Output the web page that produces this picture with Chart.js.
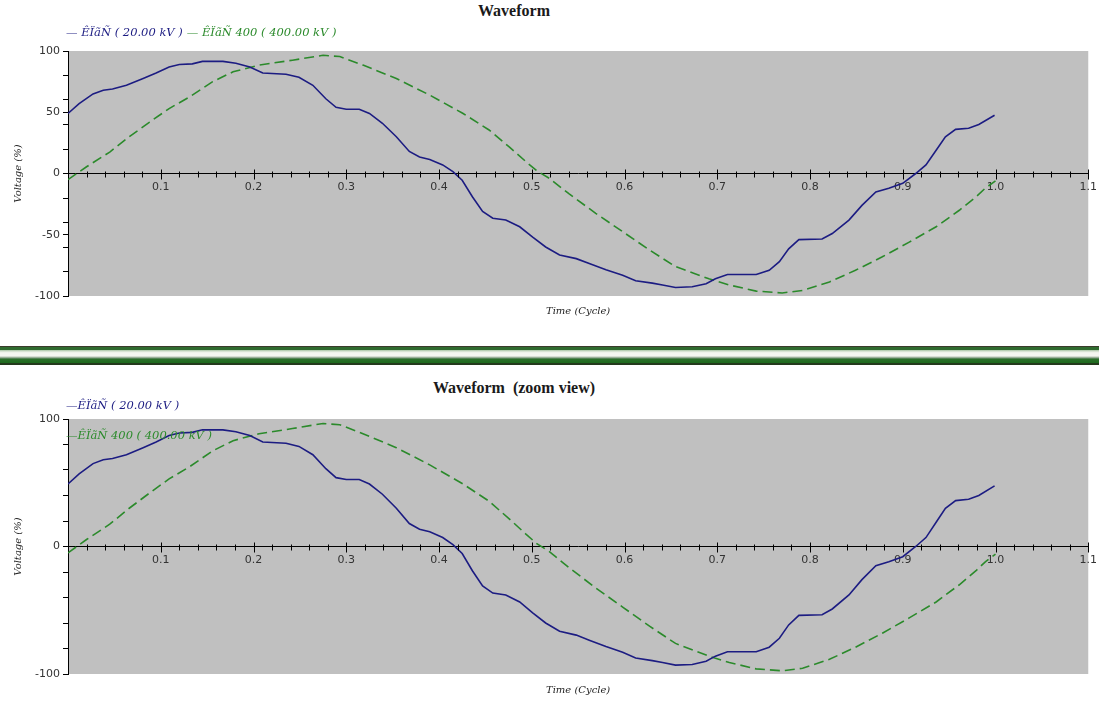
<!DOCTYPE html>
<html>
<head>
<meta charset="utf-8">
<title>Waveform</title>
<script src="https://cdn.jsdelivr.net/npm/chart.js@4.4.0/dist/chart.umd.min.js"></script>
<style>
	body{margin:0;background:#fff;width:1099px;height:702px;position:relative;overflow:hidden;}
	canvas{position:absolute;left:0;}
	.title{position:absolute;left:0;width:1028px;text-align:center;font:bold 16px 'Liberation Serif',serif;color:#1a1a1a;line-height:18px;}
	.legend{position:absolute;left:66px;font:italic 11.5px 'DejaVu Serif',serif;white-space:nowrap;z-index:2;}
	.legend span{margin-right:4px;}
	/* green double rule between the two charts */
	.sep{position:absolute;left:0;top:346px;width:1099px;height:19px;
		background:linear-gradient(to bottom,#3b3b2c 0px,#3b3b2c 1px,#2f6b2f 1px,#2f6b2f 4px,#a7c4a2 4px,#e9efe4 6px,#f5f6f0 7px,#f5f6f0 10px,#b9c6b5 11px,#7f9a7f 12px,#2c6f2a 13px,#1d6a1d 17px,#243a1c 17px,#243a1c 19px);}
</style>
</head>
<body>

<div class="title" style="top:2px;">Waveform</div>
<div class="legend" id="legendMain" style="top:25px;line-height:14px;"></div>
<canvas id="waveMain" width="1099" height="330" style="top:0;"></canvas>

<div class="sep"></div>

<div class="title" style="top:379px;">Waveform&nbsp;&nbsp;(zoom view)</div>
<div class="legend" id="legendZoom" style="top:390px;line-height:30px;"></div>
<canvas id="waveZoom" width="1099" height="332" style="top:370px;"></canvas>

<script>
//系列名称
var seriesNames = ['ÊÏãÑ ( 20.00 kV )', 'ÊÏãÑ 400 ( 400.00 kV )'];
var seriesColors = ['#1c1c82', '#2b8a2b'];

//20 kV 母线电压 (周期, %)
var cycle20 = [0.000, 0.012, 0.027, 0.038, 0.048, 0.063, 0.081, 0.095, 0.109, 0.120, 0.134, 0.145, 0.167, 0.181, 0.196,
	0.210, 0.235, 0.249, 0.264, 0.278, 0.289, 0.300, 0.314, 0.325, 0.339, 0.354, 0.368, 0.379, 0.390, 0.404,
	0.415, 0.425, 0.436, 0.447, 0.458, 0.472, 0.487, 0.501, 0.515, 0.530, 0.548, 0.562, 0.580, 0.598, 0.612,
	0.630, 0.641, 0.655, 0.673, 0.688, 0.698, 0.711, 0.742, 0.756, 0.767, 0.777, 0.788, 0.813, 0.824, 0.842,
	0.856, 0.871, 0.885, 0.900, 0.914, 0.925, 0.936, 0.946, 0.957, 0.971, 0.982, 0.999];
var volt20 = [49, 57, 65, 68, 69, 72, 77.5, 82, 87, 89, 89.5, 91.5, 91.5, 90, 87,
	82, 81, 78.5, 72, 61, 54, 52.5, 52.5, 49, 41, 30, 18, 13.5, 11.5, 7,
	1.5, -5.5, -19, -31, -36.5, -38, -43.5, -52, -60, -66.5, -69.5, -73.5, -78.5, -83, -87.5,
	-89.5, -91, -93, -92.5, -90, -86, -82.5, -82.5, -79, -72, -61.5, -54, -53.5, -49, -38,
	-26, -15, -12, -8, 0, 7, 19, 30, 36, 37, 40, 47.5];

//400 kV 母线电压 (周期, %)
var cycle400 = [0.000, 0.020, 0.045, 0.066, 0.088, 0.109, 0.131, 0.156, 0.178, 0.206, 0.242, 0.275, 0.293, 0.318,
	0.354, 0.390, 0.426, 0.454, 0.476, 0.494, 0.505, 0.519, 0.540, 0.569, 0.598, 0.627, 0.655, 0.691,
	0.713, 0.742, 0.770, 0.792, 0.821, 0.849, 0.878, 0.907, 0.936, 0.961, 0.979, 0.989, 1.000];
var volt400 = [-5, 5.5, 17.5, 30, 42, 53, 62.5, 75, 83, 88.5, 92.5, 96.5, 95.5, 88.5,
	77.5, 64, 49, 35.5, 21.5, 9.5, 2.5, -4, -16.5, -32.5, -47.5, -62.5, -76, -86,
	-91, -96, -97.5, -95.5, -88.5, -79, -68, -56, -43.5, -30, -19, -12, -6];

//坐标轴刻度
var xMax = 1.1;
var xMinorStep = 0.02;
var yMinorStep = 20;
var yLabelsMain = [-100, -50, 0, 50, 100];
var yLabelsZoom = [-100, 0, 100];

function toPoints(xs, ys){
	return xs.map(function(x, i){ return {x: x, y: ys[i]}; });
}

//绘图区灰色背景
var plotBackground = {
	id: 'plotBackground',
	beforeDraw: function(chart){
		var a = chart.chartArea, ctx = chart.ctx;
		ctx.save();
		ctx.fillStyle = '#c0c0c0';
		ctx.fillRect(a.left, a.top, a.right - a.left, a.bottom - a.top);
		ctx.restore();
	}
};

//横轴刻度线穿过零线
var crossTicks = {
	id: 'crossTicks',
	afterDraw: function(chart){
		var xs = chart.scales.x, ys = chart.scales.y, ctx = chart.ctx;
		var y0 = Math.round(ys.getPixelForValue(0)) + 0.5;
		ctx.save();
		ctx.strokeStyle = '#000';
		ctx.lineWidth = 1;
		ctx.beginPath();
		xs.ticks.forEach(function(t, i){
			if (i === 0) return;
			var px = Math.round(xs.getPixelForValue(t.value)) + 0.5;
			var len = (i % 5 === 0) ? 5 : 3;
			ctx.moveTo(px, y0 - len);
			ctx.lineTo(px, y0 + len);
		});
		ctx.stroke();
		ctx.restore();
	}
};

function buildLegend(chart, el, stacked){
	var html = '';
	chart.data.datasets.forEach(function(ds){
		html += '<span style="color:' + ds.borderColor + '">' + (stacked ? '—' : '— ') + ds.label + '</span>';
		if (stacked) html += '<br>';
	});
	el.innerHTML = html;
}

function makeChart(canvasId, yLabels, pad, titleGap){
	var tickFont = {family: "'DejaVu Sans', sans-serif", size: 11};
	var titleFont = {family: "'DejaVu Serif', serif", size: 10, style: 'italic', lineHeight: 1.2};
	return new Chart(document.getElementById(canvasId), {
		type: 'line',
		data: {
			datasets: [{
				label: seriesNames[0],
				data: toPoints(cycle20, volt20),
				borderColor: seriesColors[0],
				borderWidth: 1.6,
				pointRadius: 0,
				tension: 0
			}, {
				label: seriesNames[1],
				data: toPoints(cycle400, volt400),
				borderColor: seriesColors[1],
				borderWidth: 1.6,
				borderDash: [10, 5],
				pointRadius: 0,
				tension: 0
			}]
		},
		options: {
			responsive: false,
			animation: false,
			events: [],
			layout: {padding: pad},
			plugins: {legend: {display: false}, title: {display: false}, tooltip: {enabled: false}},
			scales: {
				x: {
					type: 'linear',
					position: {y: 0},
					min: 0,
					max: xMax,
					afterBuildTicks: function(scale){
						var ticks = [];
						for (var i = 0; i <= Math.round(xMax / xMinorStep); i++) {
							ticks.push({value: +(i * xMinorStep).toFixed(2)});
						}
						scale.ticks = ticks;
					},
					ticks: {
						autoSkip: false,
						maxRotation: 0,
						padding: 2,
						color: '#333',
						font: tickFont,
						callback: function(v, i){ return (i > 0 && i % 5 === 0) ? v.toFixed(1) : ''; }
					},
					grid: {display: false, drawTicks: true, tickLength: 5},
					border: {display: true, color: '#000', width: 1}
				},
				xTitle: {
					type: 'linear',
					position: 'bottom',
					min: 0,
					max: xMax,
					afterFit: function(scale){ scale.height = titleGap + 16; },
					ticks: {display: false},
					grid: {display: false, drawTicks: false},
					border: {display: false},
					title: {display: true, text: 'Time (Cycle)', color: '#222', font: titleFont, padding: {top: titleGap, bottom: 4}}
				},
				y: {
					type: 'linear',
					min: -100,
					max: 100,
					afterFit: function(scale){ scale.width = 68; },
					afterBuildTicks: function(scale){
						var vals = [];
						for (var v = -100; v <= 100; v += yMinorStep) vals.push(v);
						yLabels.forEach(function(v){ if (vals.indexOf(v) < 0) vals.push(v); });
						vals.sort(function(a, b){ return a - b; });
						scale.ticks = vals.map(function(v){ return {value: v}; });
					},
					ticks: {
						autoSkip: false,
						padding: 3,
						color: '#333',
						font: tickFont,
						callback: function(v){ return yLabels.indexOf(v) >= 0 ? String(v) : ''; }
					},
					grid: {display: true, drawOnChartArea: false, drawTicks: true, tickLength: 5, color: '#000'},
					border: {display: true, color: '#000', width: 1},
					title: {display: true, text: 'Voltage (%)', color: '#222', font: titleFont, padding: {top: 12, bottom: 0}}
				}
			}
		},
		plugins: [plotBackground, crossTicks]
	});
}

var mainChart = makeChart('waveMain', yLabelsMain, {top: 51, right: 10, bottom: 9, left: 0}, 9);
var zoomChart = makeChart('waveZoom', yLabelsZoom, {top: 49, right: 10, bottom: 2, left: 0}, 10);

buildLegend(mainChart, document.getElementById('legendMain'), false);
buildLegend(zoomChart, document.getElementById('legendZoom'), true);
</script>
</body>
</html>
